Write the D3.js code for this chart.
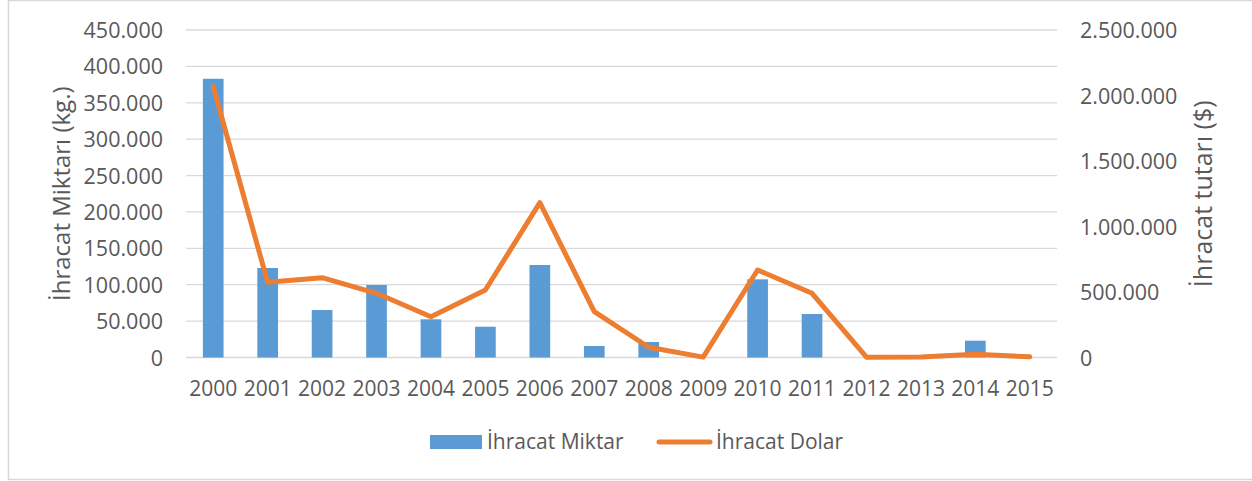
<!DOCTYPE html>
<html>
<head>
<meta charset="utf-8">
<script src="https://cdn.jsdelivr.net/npm/d3@7"></script>
<style>
  body { margin: 0; background: #fff; }
  svg text { font-family: "Open Sans", sans-serif; fill: #595959; }
</style>
</head>
<body>
<svg id="chart" width="1252" height="481"></svg>
<script>
// data
var years = ["2000","2001","2002","2003","2004","2005","2006","2007","2008","2009","2010","2011","2012","2013","2014","2015"];
var miktar = [383000, 123000, 65300, 99600, 52500, 42300, 127100, 15800, 21300, 0, 107400, 59800, 0, 0, 23100, 0];
var dolar = [2067000, 574000, 609000, 490000, 311000, 515000, 1182000, 350000, 78000, 3000, 668000, 490000, 2000, 3000, 25000, 5000];
var leftTicks = [0, 50000, 100000, 150000, 200000, 250000, 300000, 350000, 400000, 450000];
var rightTicks = [0, 500000, 1000000, 1500000, 2000000, 2500000];

var svg = d3.select("svg#chart");
var tr = d3.formatLocale({decimal: ",", thousands: ".", grouping: [3], currency: ["", "$"]});
var fmt = tr.format(",");

// plot area (window.top is reserved, so prefixed names)
var pLeft = 186, pRight = 1057, pTop = 30, pBottom = 357.5;

// outer border
svg.append("rect")
	.attr("x", 8.5).attr("y", 0.5)
	.attr("width", 1260).attr("height", 479)
	.attr("fill", "none")
	.attr("stroke", "#d9d9d9")
	.attr("stroke-width", 1.5);

var x = d3.scaleBand().domain(years).range([pLeft, pRight]).paddingInner(0.62).paddingOuter(0.31);
var y0 = d3.scaleLinear().domain([0, 450000]).range([pBottom, pTop]);
var y1 = d3.scaleLinear().domain([0, 2500000]).range([pBottom, pTop]);

// gridlines
svg.append("g").selectAll("line")
	.data(leftTicks)
	.enter().append("line")
	.attr("x1", pLeft).attr("x2", pRight)
	.attr("y1", function (d) { return y0(d); })
	.attr("y2", function (d) { return y0(d); })
	.attr("stroke", "#d9d9d9")
	.attr("stroke-width", 1.3);

// left axis
var gl = svg.append("g")
	.attr("transform", "translate(" + (pLeft - 23) + ",0)")
	.call(d3.axisLeft(y0).tickValues(leftTicks).tickFormat(fmt).tickSize(0).tickPadding(0));
gl.select(".domain").remove();
gl.selectAll("text").attr("font-size", "21.5px").attr("dy", "0.35em").attr("font-family", null).attr("fill", null);

// right axis
var gr = svg.append("g")
	.attr("transform", "translate(1080,0)")
	.call(d3.axisRight(y1).tickValues(rightTicks).tickFormat(fmt).tickSize(0).tickPadding(0));
gr.select(".domain").remove();
gr.selectAll("text").attr("font-size", "21.5px").attr("dy", "0.35em").attr("font-family", null).attr("fill", null);

// x axis
var gx = svg.append("g")
	.attr("transform", "translate(0," + pBottom + ")")
	.call(d3.axisBottom(x).tickSize(0).tickPadding(0));
gx.select(".domain").remove();
gx.selectAll("text").attr("font-size", "21px").attr("y", 31).attr("dy", "0.35em").attr("font-family", null).attr("fill", null);

// bars
svg.append("g").selectAll("rect")
	.data(miktar)
	.enter().append("rect")
	.attr("x", function (d, i) { return x(years[i]); })
	.attr("width", x.bandwidth())
	.attr("y", function (d) { return y0(d); })
	.attr("height", function (d) { return pBottom - y0(d); })
	.attr("fill", "#5b9bd5");

// line
var valueline = d3.line()
	.x(function (d, i) { return x(years[i]) + x.bandwidth() / 2; })
	.y(function (d) { return y1(d); });

svg.append("path")
	.datum(dolar)
	.attr("d", valueline)
	.attr("fill", "none")
	.attr("stroke", "#ed7d31")
	.attr("stroke-width", 5)
	.attr("stroke-linejoin", "round")
	.attr("stroke-linecap", "round");

// axis titles
svg.append("text")
	.attr("transform", "translate(70," + ((pTop + pBottom) / 2) + ") rotate(-90)")
	.attr("text-anchor", "middle")
	.attr("font-size", "24px")
	.text("İhracat Miktarı (kg.)");

svg.append("text")
	.attr("transform", "translate(1212," + ((pTop + pBottom) / 2) + ") rotate(-90)")
	.attr("text-anchor", "middle")
	.attr("font-size", "25px")
	.text("İhracat tutarı ($)");

// legend
var legend = svg.append("g");
legend.append("rect")
	.attr("x", 430).attr("y", 435)
	.attr("width", 52).attr("height", 14)
	.attr("fill", "#5b9bd5");
legend.append("text")
	.attr("x", 487).attr("y", 442)
	.attr("dy", "0.35em")
	.attr("font-size", "21px")
	.text("İhracat Miktar");
legend.append("line")
	.attr("x1", 659).attr("x2", 710)
	.attr("y1", 442).attr("y2", 442)
	.attr("stroke", "#ed7d31")
	.attr("stroke-width", 5)
	.attr("stroke-linecap", "round");
legend.append("text")
	.attr("x", 716).attr("y", 442)
	.attr("dy", "0.35em")
	.attr("font-size", "21px")
	.text("İhracat Dolar");
</script>
</body>
</html>
